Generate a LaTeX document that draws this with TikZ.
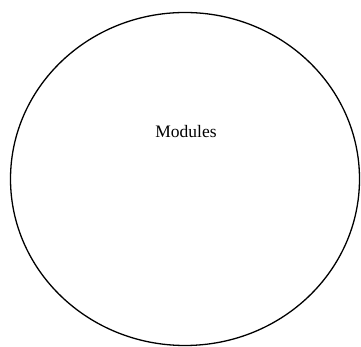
\documentclass[tikz,border=0pt]{standalone}
\usepackage{fontspec}
\setmainfont{Liberation Serif}
\usetikzlibrary{shapes.geometric}
\begin{document}
\begin{tikzpicture}[x=1pt,y=1pt,
  modulebox/.style={draw=black, line width=1.3pt, ellipse, inner sep=0pt,
    minimum width=349pt, minimum height=333pt},
  label/.style={font=\fontsize{17.5}{20}\selectfont, inner sep=0pt}]
  \useasboundingbox (0,0) rectangle (361,347);
  \node[modulebox] (mods) at (185,168) {};
  \node[label] (modtext) at (186,215) {Modules};
\end{tikzpicture}
\end{document}
